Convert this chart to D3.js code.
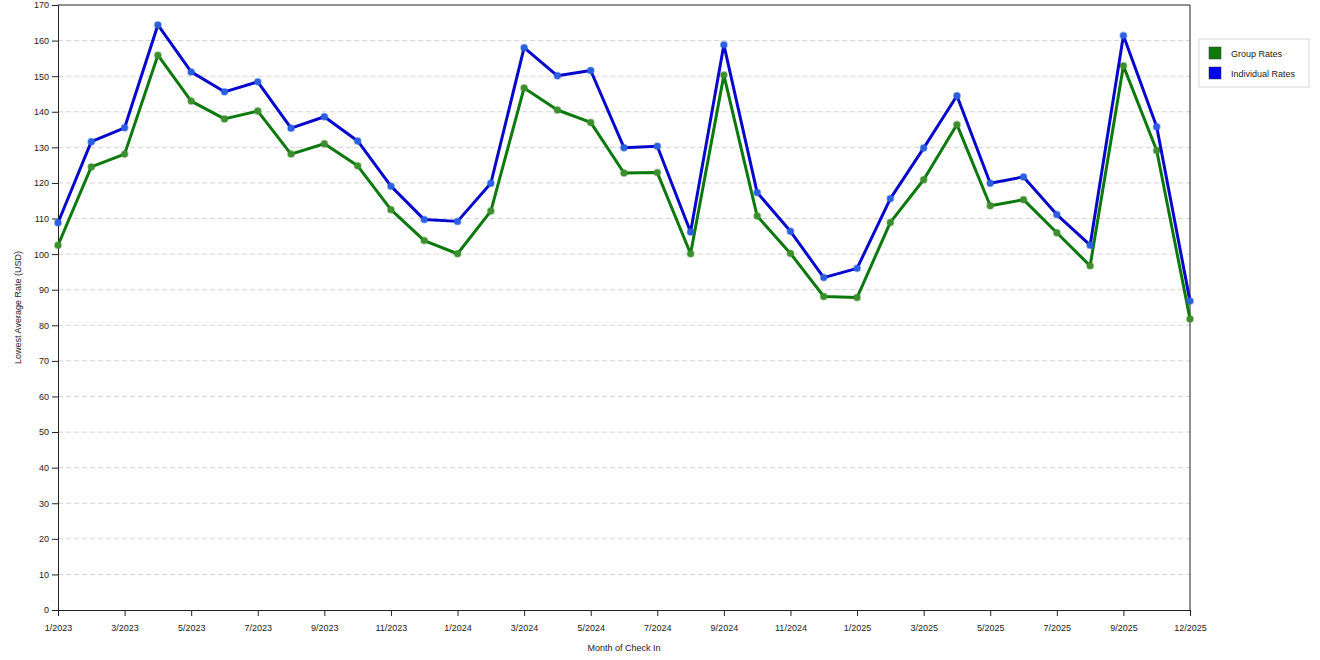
<!DOCTYPE html>
<html>
<head>
    <meta charset="utf-8">
    <title>Lowest Average Rate by Month of Check In</title>
    <script src="https://d3js.org/d3.v7.min.js"></script>
    <style>
        body { margin: 0; background: #fff; }
        svg { display: block; font-family: "Liberation Sans", Arial, sans-serif; }
        .axis text { font-size: 9px; fill: #222; }
        .axis path, .axis line { stroke: #222; }
        .grid line { stroke: #d4d4d4; stroke-dasharray: 5,3; }
        .axis-title { font-size: 9px; fill: #222; }
        .legend-label { font-size: 9px; fill: #222; }
    </style>
</head>
<body>
<div id="chart"></div>
<script>
// months of check in (one point each)
const months = [
    '1/2023', '2/2023', '3/2023', '4/2023', '5/2023', '6/2023', '7/2023', '8/2023', '9/2023', '10/2023', '11/2023', '12/2023',
    '1/2024', '2/2024', '3/2024', '4/2024', '5/2024', '6/2024', '7/2024', '8/2024', '9/2024', '10/2024', '11/2024', '12/2024',
    '1/2025', '2/2025', '3/2025', '4/2025', '5/2025', '6/2025', '7/2025', '8/2025', '9/2025', '10/2025', '11/2025'
];

const groupRates = [
    102.5, 124.5, 128.1, 155.9, 143.0, 138.0, 140.2, 128.1, 131.0, 124.8, 112.5, 103.8,
    100.1, 112.1, 146.7, 140.5, 137.0, 122.8, 122.9, 100.1, 150.3, 110.7, 100.2, 88.1,
    87.8, 108.9, 120.9, 136.4, 113.6, 115.3, 106.0, 96.7, 152.9, 129.1, 81.8
];

const individualRates = [
    108.8, 131.6, 135.5, 164.4, 151.2, 145.6, 148.4, 135.4, 138.6, 131.8, 119.1, 109.7,
    109.2, 119.9, 158.0, 150.1, 151.6, 129.9, 130.3, 106.2, 158.8, 117.3, 106.4, 93.4,
    96.0, 115.6, 129.8, 144.5, 119.9, 121.7, 111.1, 102.5, 161.4, 135.8, 86.8
];

// x tick positions and the labels printed under them
const tickMonths = ['1/2023', '3/2023', '5/2023', '7/2023', '9/2023', '11/2023', '1/2024', '3/2024', '5/2024',
    '7/2024', '9/2024', '11/2024', '1/2025', '3/2025', '5/2025', '7/2025', '9/2025', '11/2025'];
const tickLabels = ['1/2023', '3/2023', '5/2023', '7/2023', '9/2023', '11/2023', '1/2024', '3/2024', '5/2024',
    '7/2024', '9/2024', '11/2024', '1/2025', '3/2025', '5/2025', '7/2025', '9/2025', '12/2025'];

const seriesNames = ['Group Rates', 'Individual Rates'];
const lineColors = ['#0c790c', '#0808cc'];
const swatchColors = ['#0e7a0e', '#0000f0'];
const markerColors = ['#3d8f2e', '#2a5fe0'];

const width = 1320, height = 660;
const margin = { top: 5, right: 130, bottom: 50, left: 58 };

const svg = d3.select('#chart').append('svg')
    .attr('width', width)
    .attr('height', height);

const x = d3.scalePoint()
    .domain(months)
    .range([margin.left, width - margin.right]);

const y = d3.scaleLinear()
    .domain([0, 170])
    .range([height - margin.bottom, margin.top]);

// horizontal dashed gridlines
svg.append('g')
    .attr('class', 'grid')
    .selectAll('line')
    .data(d3.range(10, 170, 10))
    .join('line')
    .attr('x1', margin.left)
    .attr('x2', width - margin.right)
    .attr('y1', d => y(d))
    .attr('y2', d => y(d));

// frame (top and right)
svg.append('path')
    .attr('d', `M${margin.left},${margin.top}H${width - margin.right}V${height - margin.bottom}`)
    .attr('fill', 'none')
    .attr('stroke', '#222');

const xAxis = svg.append('g')
    .attr('class', 'axis')
    .attr('transform', `translate(0,${height - margin.bottom})`)
    .call(d3.axisBottom(x)
        .tickValues(tickMonths)
        .tickFormat((d, i) => tickLabels[i])
        .tickSize(6)
        .tickSizeOuter(0));
xAxis.selectAll('text').attr('dy', '1.3em');

svg.append('g')
    .attr('class', 'axis')
    .attr('transform', `translate(${margin.left},0)`)
    .call(d3.axisLeft(y)
        .tickValues(d3.range(0, 171, 10))
        .tickSize(6)
        .tickSizeOuter(0));

svg.append('text')
    .attr('class', 'axis-title')
    .attr('x', (margin.left + width - margin.right) / 2)
    .attr('y', 651)
    .attr('text-anchor', 'middle')
    .text('Month of Check In');

svg.append('text')
    .attr('class', 'axis-title')
    .attr('transform', `translate(21,${(margin.top + height - margin.bottom) / 2}) rotate(-90)`)
    .attr('text-anchor', 'middle')
    .text('Lowest Average Rate (USD)');

const series = [groupRates, individualRates];
const line = d3.line()
    .x((d, i) => x(months[i]))
    .y(d => y(d));

series.forEach((values, k) => {
    svg.append('path')
        .datum(values)
        .attr('fill', 'none')
        .attr('stroke', lineColors[k])
        .attr('stroke-width', 3)
        .attr('stroke-linejoin', 'round')
        .attr('d', line);

    svg.append('g')
        .selectAll('circle')
        .data(values)
        .join('circle')
        .attr('cx', (d, i) => x(months[i]))
        .attr('cy', d => y(d))
        .attr('r', 3.2)
        .attr('fill', markerColors[k])
        .attr('stroke', markerColors[k])
        .attr('stroke-opacity', 0.45)
        .attr('stroke-width', 1.6);
});

// legend
const legend = svg.append('g').attr('transform', 'translate(1199,39)');
legend.append('rect')
    .attr('width', 110)
    .attr('height', 48)
    .attr('fill', '#fff')
    .attr('stroke', '#d8d8d8');

const items = legend.selectAll('g.item')
    .data(seriesNames)
    .join('g')
    .attr('class', 'item')
    .attr('transform', (d, i) => `translate(10,${8 + i * 20})`);

items.append('rect')
    .attr('width', 12)
    .attr('height', 12)
    .attr('fill', (d, i) => swatchColors[i])
    .attr('stroke', '#333')
    .attr('stroke-opacity', 0.5);

items.append('text')
    .attr('class', 'legend-label')
    .attr('x', 22)
    .attr('y', 10)
    .text(d => d);
</script>
</body>
</html>
